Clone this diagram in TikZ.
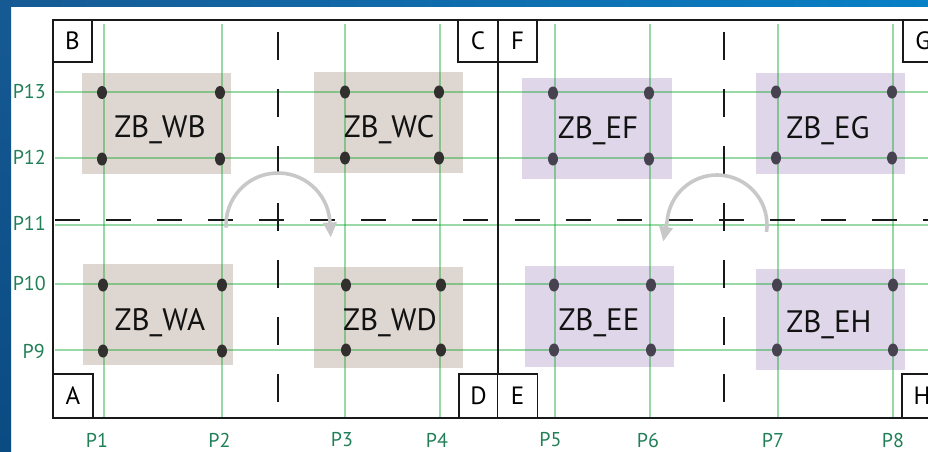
\documentclass[tikz,border=0pt]{standalone}
\usepackage{fontspec}
\setmainfont{PT Sans}
\usetikzlibrary{arrows.meta}
\definecolor{wfill}{RGB}{222,215,209}
\definecolor{efill}{RGB}{223,214,233}
\definecolor{wdotc}{RGB}{50,48,46}
\definecolor{edotc}{RGB}{70,66,80}
\definecolor{gridg}{RGB}{0,160,30}
\definecolor{labg}{RGB}{34,128,88}
\definecolor{arrg}{RGB}{200,200,200}
\definecolor{blueA}{RGB}{22,90,148}
\definecolor{blueB}{RGB}{8,128,198}
\definecolor{blueC}{RGB}{10,75,130}
\begin{document}
\begin{tikzpicture}[x=1pt,y=-1pt,
  zrect/.style={draw=none,minimum width=149pt,minimum height=101pt,inner sep=0pt},
  wrect/.style={zrect,fill=wfill},
  erect/.style={zrect,fill=efill},
  zbtext/.style={anchor=base,font=\fontsize{31}{31}\selectfont,text=black!93,inner sep=0pt},
  corner/.style={draw=black!90,line width=1.8pt,minimum width=39pt,minimum height=42pt,inner sep=0pt,font=\fontsize{25}{25}\selectfont,fill=white},
  plab/.style={text=labg,font=\fontsize{20}{20}\selectfont,inner sep=0pt},
  gline/.style={draw=gridg,draw opacity=0.4,line width=2pt},
  dline/.style={draw=black!90,line width=2pt},
  frame/.style={draw=black!90,line width=2pt},
  arr/.style={draw=arrg,line width=3.6pt,-{Triangle[length=15pt,width=13pt]}},
  wdot/.style={fill=wdotc},
  edot/.style={fill=edotc}
]
\useasboundingbox (0,0) rectangle (928,451);
\fill[white] (0,0) rectangle (928,451);
\shade[left color=blueA,right color=blueB] (0,0) rectangle (928,6);
\shade[top color=blueA,bottom color=blueC] (0,0) rectangle (11,451);

% zone rectangles
\node[wrect] (wb) at (156.5,123.5) {};
\node[wrect] (wc) at (388.5,122) {};
\node[wrect,minimum width=150pt] (wa) at (158,314) {};
\node[wrect] (wd) at (388.5,317) {};
\node[erect,minimum width=150pt] (ef) at (597,128.5) {};
\node[erect] (eg) at (830.5,123.5) {};
\node[erect] (ee) at (599.5,316) {};
\node[erect] (eh) at (830.5,319) {};

% grid lines
\foreach \x in {103.5,221.5,345,440,554.5,650,777.5,893}
  \draw[gline] (\x,24) -- (\x,417);
\foreach \y in {91.5,157.5,225,283.5,350}
  \draw[gline] (55,\y) -- (928,\y);

% dashed axes
\draw[dline,dash pattern=on 25pt off 26.06pt] (55,220) -- (935,220);
\draw[dline,dash pattern=on 28pt off 29pt] (278,32) -- (278,404);
\draw[dline,dash pattern=on 28pt off 29pt] (723.5,32) -- (723.5,404);

% frame
\draw[frame] (53,20) -- (940,20);
\draw[frame] (53,418) -- (940,418);
\draw[frame] (53,20) -- (53,418);
\draw[frame] (498,20) -- (498,418);

% corner boxes
\node[corner] (cB) at (72.5,41) {B};
\node[corner,minimum width=40pt] (cC) at (478,41) {C};
\node[corner] (cF) at (517.5,41) {F};
\node[corner,minimum width=40pt] (cG) at (923,41) {G};
\node[corner,minimum width=40pt,minimum height=44pt] (cA) at (73,396) {A};
\node[corner,minimum height=44pt] (cD) at (478.5,396) {D};
\node[corner,minimum width=40pt,minimum height=44pt] (cE) at (517.5,396) {E};
\node[corner,minimum width=40pt,minimum height=44pt] (cH) at (922,396) {H};

% dots
\foreach \p in {(102,92.5),(220,92.5),(102,159),(220,159),
                (345,92),(439,92),(345,158),(439,158),
                (103,285),(222,285),(103,351),(222,351),
                (346,285),(441,285),(346,350),(441,350)}
  \fill[wdot] \p ellipse (5 and 6.5);
\foreach \p in {(553,93),(649,93),(553,159),(649,159),
                (776,92),(892,92),(776,158),(892,158),
                (554,285),(651,285),(554,350),(651,350),
                (777,285),(893,285),(777,350),(893,350)}
  \fill[edot] \p ellipse (5 and 6.5);

% zone labels
\node[zbtext] (twb) at (160,137) {ZB\_WB};
\node[zbtext] (twc) at (389,137) {ZB\_WC};
\node[zbtext] (twa) at (160,330) {ZB\_WA};
\node[zbtext] (twd) at (390,330) {ZB\_WD};
\node[zbtext] (tef) at (598,138) {ZB\_EF};
\node[zbtext] (teg) at (828,138) {ZB\_EG};
\node[zbtext] (tee) at (599,330) {ZB\_EE};
\node[zbtext] (teh) at (829,332) {ZB\_EH};

% rotation arrows
\coordinate (cw) at (278,225);
\coordinate (ce) at (717,225);
\draw[arr] ([shift={(177:52)}]cw) arc[start angle=177,end angle=355,radius=52] -- ++(1,17);
\draw[arr] ([shift={(8:50)}]ce) arc[start angle=8,end angle=-175,radius=50] -- ++(-4,21);

% axis labels
\node[plab,anchor=east] (p13) at (46,91.5) {P13};
\node[plab,anchor=east] (p12) at (46,157.5) {P12};
\node[plab,anchor=east] (p11) at (46,223) {P11};
\node[plab,anchor=east] (p10) at (46,283.5) {P10};
\node[plab,anchor=east] (p9) at (45,351) {P9};
\node[plab] (p1) at (97,440) {P1};
\node[plab] (p2) at (219.5,440) {P2};
\node[plab] (p3) at (342,440) {P3};
\node[plab] (p4) at (437,440) {P4};
\node[plab] (p5) at (550.5,440) {P5};
\node[plab] (p6) at (648,440) {P6};
\node[plab] (p7) at (773,440) {P7};
\node[plab] (p8) at (893,440) {P8};
\end{tikzpicture}
\end{document}
